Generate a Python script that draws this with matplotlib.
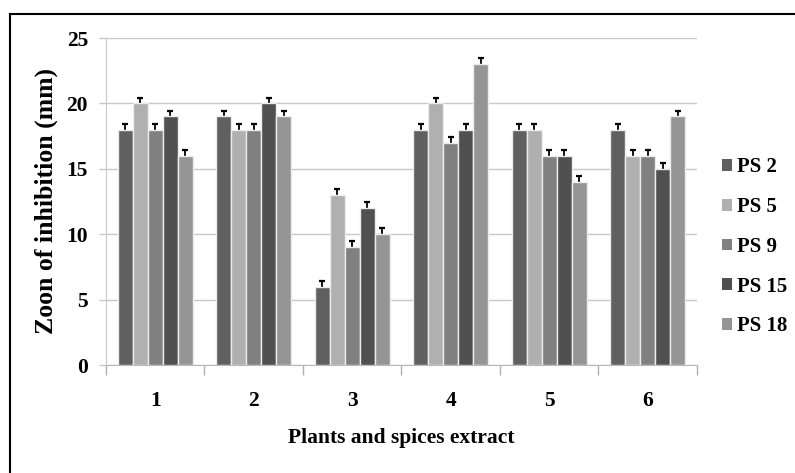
import matplotlib.pyplot as plt
import numpy as np
from matplotlib.patches import Patch
from matplotlib.lines import Line2D

# data
groups = ['1', '2', '3', '4', '5', '6']
series = ['PS 2', 'PS 5', 'PS 9', 'PS 15', 'PS 18']
ps2 = [18, 19, 6, 18, 18, 18]
ps5 = [20, 18, 13, 20, 18, 16]
ps9 = [18, 18, 9, 17, 16, 16]
ps15 = [19, 20, 12, 18, 16, 15]
ps18 = [16, 19, 10, 23, 14, 19]
err = 0.45
colors = ['#606060', '#b0b0b0', '#808080', '#505050', '#959595']

plt.rcParams['font.family'] = ['Liberation Serif', 'DejaVu Serif']
plt.rcParams['font.weight'] = 'bold'

fig = plt.figure(figsize=(7.95, 4.73), dpi=100)
ax = fig.add_axes([106 / 795, 108 / 473, 591 / 795, 327 / 473])

x = np.arange(len(groups)) + 0.5
w = 0.152
for j, vals in enumerate([ps2, ps5, ps9, ps15, ps18]):
    ax.bar(x + (j - 2) * w, vals, w, color=colors[j], edgecolor='#ececec',
           linewidth=1.0, zorder=3, label=series[j])
    # symmetric bar, lower half hidden behind the bar -> "T" shape
    ax.errorbar(x + (j - 2) * w, vals, yerr=err, fmt='none', ecolor='black',
                elinewidth=1.3, capsize=2.5, capthick=1.6, zorder=2)

ax.set_xlim(0, 6)
ax.set_ylim(0, 25)
ax.set_yticks([0, 5, 10, 15, 20, 25])
ax.yaxis.grid(True, color='#c8c8c8', linewidth=1.0, zorder=0)
ax.set_axisbelow(True)

ax.set_xticks(np.arange(0, 7))
ax.set_xticklabels([])
ax.set_xticks(x, minor=True)
ax.set_xticklabels(groups, minor=True, fontsize=15.5, fontweight='bold')
ax.tick_params(axis='x', which='minor', length=0, pad=19)
ax.tick_params(axis='x', which='major', length=7, color='#b0b0b0', width=1)
ax.tick_params(axis='y', length=5, color='#c8c8c8', width=1, pad=8, labelsize=15.5)
for lab in ax.get_yticklabels():
    lab.set_fontweight('bold')

for s in ['top', 'right']:
    ax.spines[s].set_visible(False)
ax.spines['left'].set_color('#c8c8c8')
ax.spines['bottom'].set_color('#b8b8b8')

ax.set_xlabel('Plants and spices extract', fontsize=15.5, fontweight='bold', labelpad=12)
ax.set_ylabel('Zoon of inhibition (mm)', fontsize=18.5, fontweight='bold', labelpad=6)

handles = [Patch(facecolor=c, edgecolor='none') for c in colors]
fig.legend(handles, series, loc='center left', bbox_to_anchor=(0.908, 0.478),
           frameon=False, fontsize=15, handlelength=0.5, handleheight=0.5,
           handletextpad=0.25, labelspacing=0.95, borderpad=0, borderaxespad=0)

# outer frame (top and left edges visible)
fig.add_artist(Line2D([10 / 795, 1], [1 - 14 / 473, 1 - 14 / 473], color='black',
                      linewidth=1.5, transform=fig.transFigure))
fig.add_artist(Line2D([10 / 795, 10 / 795], [0, 1 - 14 / 473], color='black',
                      linewidth=1.5, transform=fig.transFigure))

fig.savefig('out.png', dpi=100)
